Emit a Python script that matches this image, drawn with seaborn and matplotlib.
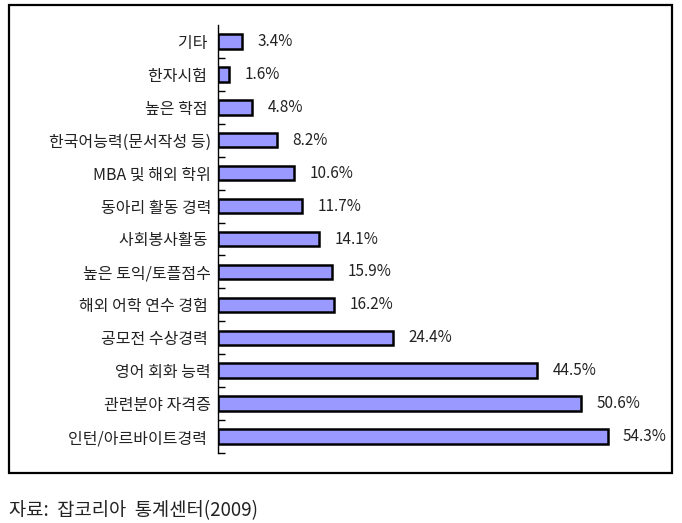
# -*- coding: utf-8 -*-

import seaborn as sns
import matplotlib.pyplot as plt
from matplotlib.patches import Rectangle

sns.set_style("white")
plt.rcParams['font.family'] = ['Noto Sans CJK KR', 'DejaVu Sans']

# data, top to bottom as in the original chart
items = ["기타 ", "한자시험 ", "높은 학점 ", "한국어능력(문서작성 등)", "MBA 및 해외 학위",
         "동아리 활동 경력", "사회봉사활동 ", "높은 토익/토플점수", "해외 어학 연수 경험 ",
         "공모전 수상경력 ", "영어 회화 능력", "관련분야 자격증", "인턴/아르바이트경력 "]
shares = [3.4, 1.6, 4.8, 8.2, 10.6, 11.7, 14.1, 15.9, 16.2, 24.4, 44.5, 50.6, 54.3]
source = "자료:  잡코리아  통계센터(2009)"

fig = plt.figure(figsize=(6.82, 5.23), dpi=100)
ax = fig.add_axes([218 / 682, 1 - 453 / 523, 452 / 682, 428 / 523])

sns.barplot(x=shares, y=items, orient="h", color="#9999FF", saturation=1,
            edgecolor="black", linewidth=1.8, width=0.44, ax=ax)

ax.bar_label(ax.containers[0], labels=["{}%".format(v) for v in shares],
             padding=11, fontsize=11, color="#222222")

ax.set_xlim(0, 63)
ax.set_ylim(12.5, -0.5)
ax.set_xlabel("")
ax.set_ylabel("")
ax.set_xticks([])
for side in ["top", "right", "bottom"]:
    ax.spines[side].set_visible(False)
ax.spines["left"].set_linewidth(1.0)
ax.spines["left"].set_color("black")

# category labels without tick marks, separators as inward ticks
ax.tick_params(axis="y", which="major", left=True, length=0, pad=5,
               labelsize=11.5, labelcolor="#222222")
ax.set_yticks([i + 0.5 for i in range(len(items))], minor=True)
ax.tick_params(axis="y", which="minor", left=True, direction="in",
               length=5, width=1.0, color="black")

# outer frame around the chart
fig.patches.append(Rectangle((9 / 682, 1 - 473 / 523), 663 / 682, 468 / 523,
                             transform=fig.transFigure, fill=False,
                             edgecolor="black", linewidth=1.6))

fig.text(9 / 682, 1 - 511 / 523, source, fontsize=13.5, va="center", ha="left", color="#222222")

fig.savefig("out.png", dpi=100)
